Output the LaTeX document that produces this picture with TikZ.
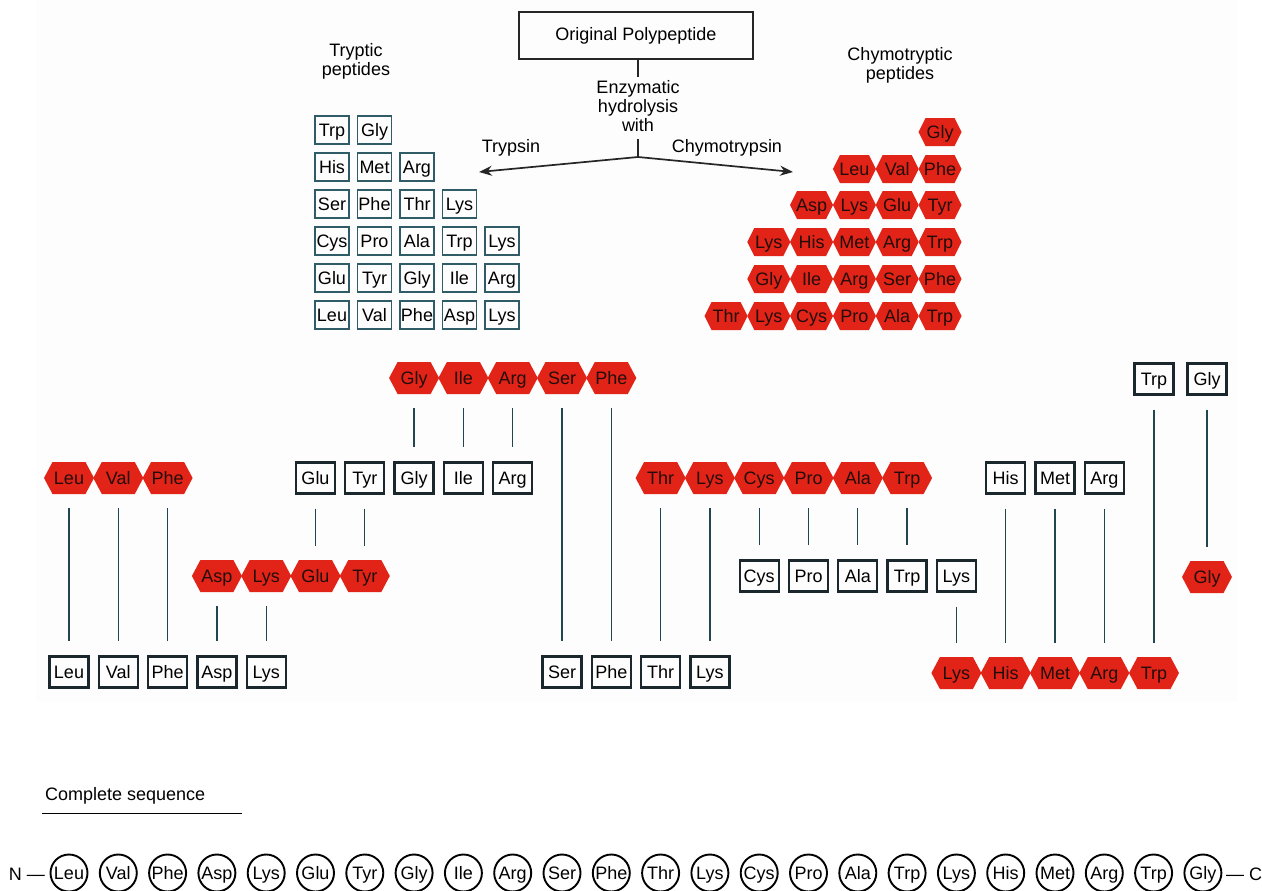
\documentclass[tikz,border=0pt]{standalone}
\usepackage{fontspec}
\setmainfont{Liberation Sans}
\usetikzlibrary{arrows.meta}

\definecolor{hexred}{RGB}{226,36,24}
\definecolor{hextxt}{RGB}{34,12,10}
\definecolor{tryedge}{RGB}{48,92,104}
\definecolor{boxedge}{RGB}{26,40,46}
\definecolor{linkc}{RGB}{34,70,80}
\definecolor{panel}{RGB}{253,253,253}

\newcommand\fs{\fontsize{18}{19}\selectfont}

% small red hexagon of the chymotryptic list: name, x, y, residue
\newcommand\hexS[4]{%
  \fill[hexred] (#2,#3) +(-21.5,0) -- +(-14.5,-14) -- +(14.5,-14) -- +(21.5,0)
     -- +(14.5,14) -- +(-14.5,14) -- cycle;
  \node[reslab, minimum width=43, minimum height=28, text=hextxt] (#1) at (#2,#3) {\makebox[0pt]{#4}};}
% large red hexagon of the overlap chart: name, x, y, residue
\newcommand\hexL[4]{%
  \fill[hexred] (#2,#3) +(-25,0) -- +(-16.5,-16) -- +(16.5,-16) -- +(25,0)
     -- +(16.5,16) -- +(-16.5,16) -- cycle;
  \node[reslab, minimum width=49, minimum height=32, text=hextxt] (#1) at (#2,#3) {\makebox[0pt]{#4}};}

\tikzset{
  reslab/.style={inner sep=0pt, font=\fs, text height=13pt, text depth=0pt},
  tbox/.style={reslab, draw=tryedge, line width=1.3pt, minimum width=34, minimum height=28},
  mbox/.style={reslab, draw=boxedge, line width=2.3pt, minimum width=39, minimum height=31},
  seqc/.style={reslab, draw=black, line width=1.9pt, circle, minimum size=37},
  link/.style={draw=linkc, line width=1.3pt, shorten <=14pt, shorten >=14pt},
  flow/.style={draw=black!85, line width=1.7pt},
  label/.style={inner sep=0pt, font=\fs, align=center},
}

\begin{document}
\begin{tikzpicture}[x=1pt,y=-1pt]
\useasboundingbox (0,0) rectangle (1262,891);
\fill[panel] (36,0) rectangle (1237,702);

% ---------- enzymatic hydrolysis of the original polypeptide ----------
\node[draw=black!85, line width=1.8pt, minimum width=234, minimum height=47, inner sep=0pt, font=\fs]
  (orig) at (636,35.5) {Original Polypeptide};
\node[label] (enz) at (638,106) {Enzymatic\\hydrolysis\\with};
\coordinate (split) at (638,157);
\coordinate (tryp) at (479,172);
\coordinate (chym) at (793,172);
\draw[flow, shorten >=3pt] (orig.south -| enz.north) -- (enz.north);
\draw[flow, shorten <=7pt] (enz.south) -- (split);
\draw[flow, -{Stealth[length=13pt,width=10pt]}] (split) -- (tryp);
\draw[flow, -{Stealth[length=13pt,width=10pt]}] (split) -- (chym);
\node[label] (trypsin) at (511,148) {Trypsin};
\node[label] (chymo) at (727,148) {Chymotrypsin};
\node[label] (tryptitle) at (356,61) {Tryptic\\peptides};
\node[label] (chymotitle) at (900,65) {Chymotryptic\\peptides};

% ---------- tryptic peptides ----------
\foreach \row/\y/\list in {1/130/{Trp,Gly}, 2/167/{His,Met,Arg}, 3/204/{Ser,Phe,Thr,Lys},
    4/241/{Cys,Pro,Ala,Trp,Lys}, 5/278/{Glu,Tyr,Gly,Ile,Arg}, 6/315/{Leu,Val,Phe,Asp,Lys}}{
  \foreach \res [count=\k from 0] in \list {
    \node[tbox] (t\row\k) at (332+42.5*\k,\y) {\makebox[0pt]{\res}};
  }
}

% ---------- chymotryptic peptides (right aligned) ----------
\foreach \row/\y/\list in {1/132/{Gly}, 2/169/{Phe,Val,Leu}, 3/205/{Tyr,Glu,Lys,Asp},
    4/242/{Trp,Arg,Met,His,Lys}, 5/279/{Phe,Ser,Arg,Ile,Gly}, 6/316/{Trp,Ala,Pro,Cys,Lys,Thr}}{
  \foreach \res [count=\k from 0] in \list {
    \hexS{c\row\k}{940-42.8*\k}{\y}{\res}
  }
}

% ---------- overlap chart: one hexagon (h) and one box (b) per position ----------
% chymotryptic fragments
\foreach \c/\res in {0/Leu,1/Val,2/Phe}            {\hexL{h\c}{69+49.3*\c}{478}{\res}}
\foreach \c/\res in {3/Asp,4/Lys,5/Glu,6/Tyr}      {\hexL{h\c}{69+49.3*\c}{576}{\res}}
\foreach \c/\res in {7/Gly,8/Ile,9/Arg,10/Ser,11/Phe} {\hexL{h\c}{69+49.3*\c}{378}{\res}}
\foreach \c/\res in {12/Thr,13/Lys,14/Cys,15/Pro,16/Ala,17/Trp} {\hexL{h\c}{69+49.3*\c}{478}{\res}}
\foreach \c/\res in {18/Lys,19/His,20/Met,21/Arg} {\hexL{h\c}{69+49.3*\c}{673}{\res}}
\hexL{h22}{1154}{673}{Trp}
\hexL{h23}{1207}{577}{Gly}

% tryptic fragments
\foreach \c/\res in {0/Leu,1/Val,2/Phe,3/Asp,4/Lys,10/Ser,11/Phe,12/Thr,13/Lys}
  {\node[mbox] (b\c) at (69+49.3*\c,672) {\makebox[0pt]{\res}};}
\foreach \c/\res in {5/Glu,6/Tyr,7/Gly,8/Ile,9/Arg,19/His,20/Met,21/Arg}
  {\node[mbox] (b\c) at (69+49.3*\c,478) {\makebox[0pt]{\res}};}
\foreach \c/\res in {14/Cys,15/Pro,16/Ala,17/Trp,18/Lys}
  {\node[mbox] (b\c) at (69+49.3*\c,576) {\makebox[0pt]{\res}};}
\node[mbox] (b22) at (1154,379) {\makebox[0pt]{Trp}};
\node[mbox] (b23) at (1207,379) {\makebox[0pt]{Gly}};

% alignment lines
\foreach \c in {0,1,2,3,4,7,8,9,10,11,12,13,14,15,16,17}
  {\path[link] (h\c.south) -- (h\c.south |- b\c.north);}
\foreach \c in {5,6,18,19,20,21,22,23}
  {\path[link] (b\c.south) -- (b\c.south |- h\c.north);}

% ---------- complete sequence ----------
\node[inner sep=0pt, font=\fs, anchor=west] (cs) at (45,796) {Complete sequence};
\draw[line width=1.3pt] ([xshift=-3pt,yshift=-9pt]cs.south west) -- ++(200,0);

\node[inner sep=0pt, font=\fs, anchor=east] (nterm) at (45,874) {N —};
\foreach \res [count=\i from 0] in {Leu,Val,Phe,Asp,Lys,Glu,Tyr,Gly,Ile,Arg,Ser,Phe,
    Thr,Lys,Cys,Pro,Ala,Trp,Lys,His,Met,Arg,Trp,Gly}
  {\node[seqc] (s\i) at (69+49.3*\i,873) {\makebox[0pt]{\res}};}
\node[inner sep=0pt, font=\fs, anchor=west] (cterm) at (1226,874) {— C};
\end{tikzpicture}
\end{document}
